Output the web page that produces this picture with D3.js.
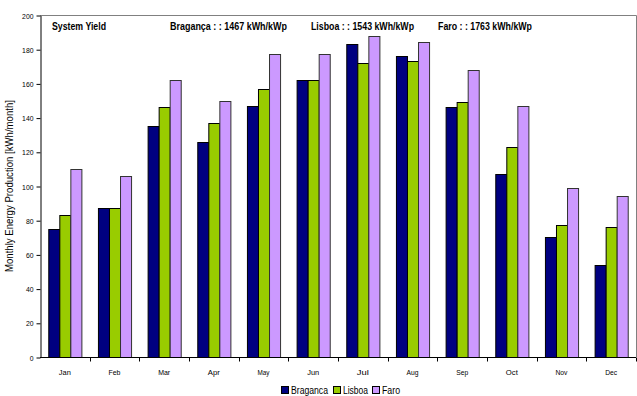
<!DOCTYPE html>
<html>
<head>
<meta charset="utf-8">
<script src="https://cdn.jsdelivr.net/npm/d3@7"></script>
<style>
  html, body { margin: 0; padding: 0; background: #fff; }
  svg { display: block; }
  text { font-family: "Liberation Sans Narrow", "Arial Narrow", "Liberation Sans", Arial, sans-serif; fill: #000; }
</style>
</head>
<body>
<svg id="chart" width="637" height="396"></svg>
<script>
// Monthly energy production per site [kWh/month]
const months = ["Jan", "Feb", "Mar", "Apr", "May", "Jun", "Jul", "Aug", "Sep", "Oct", "Nov", "Dec"];
const seriesNames = ["Braganca", "Lisboa", "Faro"];
const braganca = [75, 87, 135, 126, 147, 162, 183, 176, 146, 107, 70, 54];
const lisboa   = [83, 87, 146, 137, 157, 162, 172, 173, 149, 123, 77, 76];
const faro     = [110, 106, 162, 150, 177, 177, 188, 184, 168, 147, 99, 94];
const yTicks = [0, 20, 40, 60, 80, 100, 120, 140, 160, 180, 200];
const yieldNotes = [
  "System Yield",
  "Bragança : : 1467 kWh/kWp",
  "Lisboa : : 1543 kWh/kWp",
  "Faro : : 1763 kWh/kWp"
];
const seriesColors = ["#000080", "#99CC00", "#CC99FF"];

const seriesValues = [braganca, lisboa, faro];
const rows = months.map((m, i) => ({
  month: m,
  values: seriesNames.map((s, k) => ({ key: s, value: seriesValues[k][i] }))
}));

const svg = d3.select("#chart");
const plot = { left: 40, right: 636, top: 15, bottom: 357 };

// Narrow lettering: squeeze text to a fixed advance width
function narrow(sel, width) {
  sel.attr("textLength", width).attr("lengthAdjust", "spacingAndGlyphs");
}

const x0 = d3.scaleBand().domain(months).range([plot.left, plot.right]).padding(0);
// Three bars per month with a gap of one and a half bar widths between groups
const x1 = d3.scaleBand().domain(seriesNames).range([0, x0.bandwidth()])
  .paddingInner(0).paddingOuter(0.75);
const y = d3.scaleLinear().domain([0, 200]).range([plot.bottom, plot.top]);
const color = d3.scaleOrdinal().domain(seriesNames).range(seriesColors);

// Plot area frame
svg.append("path")
  .attr("d", `M${plot.left},${plot.top + 0.5}H${plot.right + 0.5}V${plot.bottom}`)
  .attr("fill", "none").attr("stroke", "#808080").attr("stroke-width", 1);

// Bars
const groups = svg.append("g").selectAll("g")
  .data(rows).join("g")
  .attr("transform", d => `translate(${x0(d.month)},0)`);

groups.selectAll("rect")
  .data(d => d.values).join("rect")
  .attr("x", d => x1(d.key) + 0.5)
  .attr("y", d => Math.round(y(d.value)) + 0.5)
  .attr("width", x1.bandwidth())
  .attr("height", d => Math.round(y(0)) - Math.round(y(d.value)))
  .attr("fill", d => color(d.key))
  .attr("stroke", d => d.key === "Faro" ? "#333" : "#000")
  .attr("stroke-width", 1);

// Y axis
const yAxis = svg.append("g")
  .attr("transform", `translate(${plot.left + 0.5},0.5)`)
  .call(d3.axisLeft(y).tickValues(yTicks).tickSize(4).tickPadding(3).tickSizeOuter(0));
yAxis.selectAll("text").style("font-size", "8px")
  .each(function(d) { narrow(d3.select(this), String(d).length * 3.8); });
yAxis.selectAll("line, path").attr("stroke", "#000");

// X axis: ticks sit between the month groups
const xAxis = svg.append("g").attr("transform", `translate(0,${plot.bottom + 0.5})`);
xAxis.append("line")
  .attr("x1", plot.left).attr("x2", plot.right)
  .attr("stroke", "#000");
xAxis.selectAll("line.tick")
  .data(months).join("line")
  .attr("class", "tick")
  .attr("x1", d => Math.round(x0(d) + x0.bandwidth()) + 0.5)
  .attr("x2", d => Math.round(x0(d) + x0.bandwidth()) + 0.5)
  .attr("y1", 0).attr("y2", 4)
  .attr("stroke", "#000");
xAxis.selectAll("text")
  .data(months).join("text")
  .attr("x", d => x0(d) + x0.bandwidth() / 2)
  .attr("y", 17)
  .attr("text-anchor", "middle")
  .style("font-size", "8px")
  .each(function() { narrow(d3.select(this), 12); })
  .text(d => d);

// Y axis title
svg.append("text")
  .attr("transform", `translate(13,${(plot.top + plot.bottom) / 2}) rotate(-90)`)
  .attr("text-anchor", "middle")
  .style("font-size", "10px")
  .call(narrow, 172)
  .text("Monthly Energy Production [kWh/month]");

// Yield annotations across the top of the plot
const noteX = [52, 170, 311, 438];
const noteW = [54, 117, 103, 94];
svg.append("g").selectAll("text")
  .data(yieldNotes).join("text")
  .attr("x", (d, i) => noteX[i])
  .attr("y", 30)
  .attr("textLength", (d, i) => noteW[i])
  .attr("lengthAdjust", "spacingAndGlyphs")
  .style("font-size", "11px")
  .style("font-weight", "bold")
  .text(d => d);

// Legend
const legendX = [281, 333, 372];
const legendW = [37, 25, 18];
const legend = svg.append("g").selectAll("g")
  .data(seriesNames).join("g")
  .attr("transform", (d, i) => `translate(${legendX[i]},386)`);
legend.append("rect")
  .attr("x", 0.5).attr("y", 0.5)
  .attr("width", 7).attr("height", 7)
  .attr("fill", d => color(d))
  .attr("stroke", "#000");
legend.append("text")
  .attr("x", 10).attr("y", 8)
  .attr("textLength", (d, i) => legendW[i])
  .attr("lengthAdjust", "spacingAndGlyphs")
  .style("font-size", "10px")
  .text(d => d);
</script>
</body>
</html>
